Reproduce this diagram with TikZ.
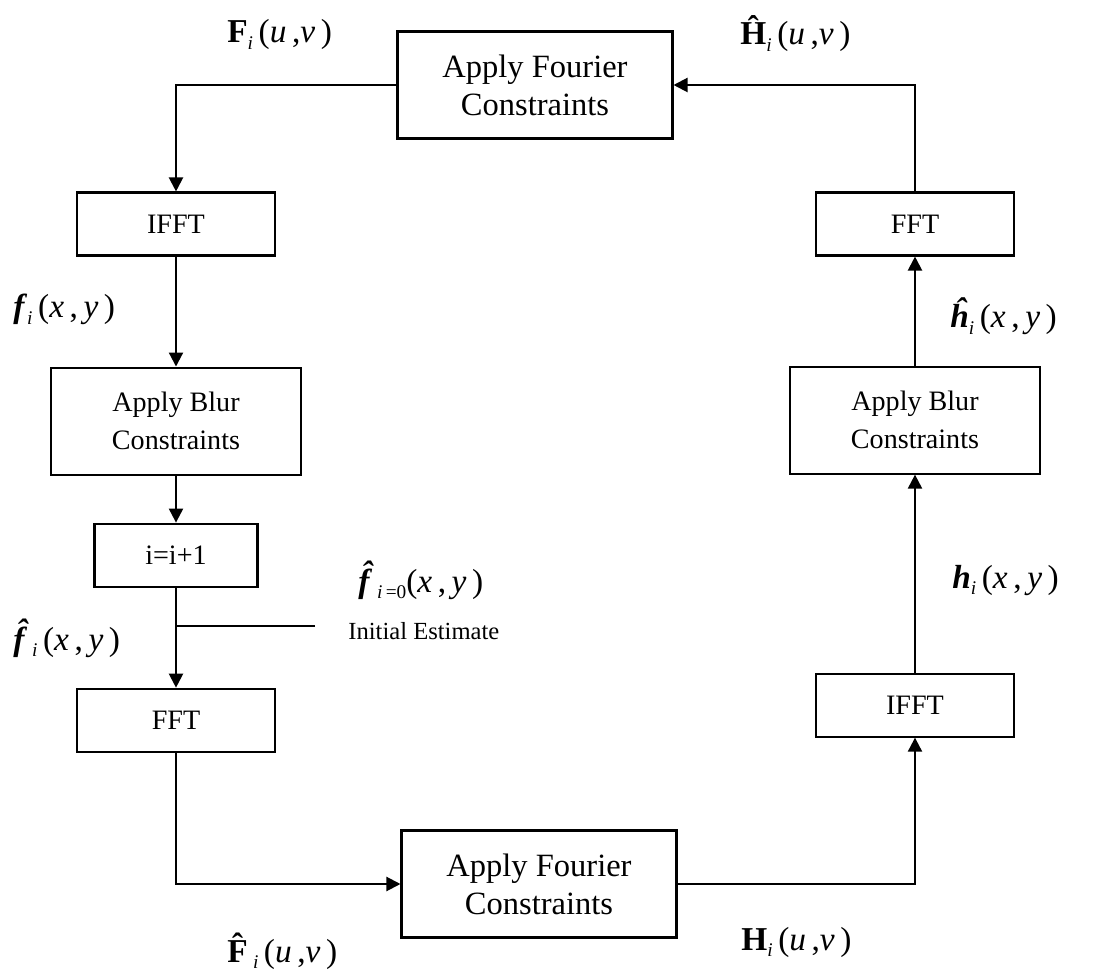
\documentclass[tikz,border=0pt]{standalone}
\usepackage{fontspec}
\setmainfont{Liberation Serif}
\usetikzlibrary{arrows.meta, positioning}

\newcommand{\sub}[1]{\raisebox{-0.45ex}{\fontsize{11}{11}\selectfont\itshape #1}}
\newcommand{\xy}{(\textit{x}\,,\,\textit{y}\,)}
\newcommand{\uv}{(\textit{u}\,,\textit{v}\,)}

\begin{document}
\begin{tikzpicture}[
  x=0.02cm, y=-0.02cm,
  proc/.style  = {draw, line width=1.2pt, align=center, inner sep=0pt,
                  font=\fontsize{16}{21.5}\selectfont},
  big/.style   = {proc, minimum width=5.5cm, minimum height=2.14cm,
                  font=\fontsize{18.5}{21.5}\selectfont},
  blur/.style  = {proc, minimum width=5cm, minimum height=2.14cm},
  small/.style = {proc, minimum width=3.96cm, minimum height=1.26cm},
  arr/.style   = {-{Triangle[length=0.28cm, width=0.28cm]}, line width=1.2pt},
  line/.style  = {line width=1.2pt},
  lbl/.style   = {font=\fontsize{19}{23}\selectfont, inner sep=0pt, anchor=base west}
]
\useasboundingbox (0,0) rectangle (1100,973);

% -- left column -------------------------------------------
\node[big] (four1) at (535,85) {Apply Fourier\\Constraints};
\node[small] (ifft1) at (176,224) {IFFT};
\node[blur, below=2.2cm of ifft1] (blur1) {Apply Blur\\Constraints};
\node[small, minimum width=3.26cm, below=0.94cm of blur1] (inc) {i=i+1};
\node[small, below=2cm of inc] (fft1) {FFT};

% -- right column ------------------------------------------
\node[big] (four2) at (539,884) {Apply Fourier\\Constraints};
\node[small] (fft2) at (915,224) {FFT};
\node[blur, below=2.18cm of fft2] (blur2) {Apply Blur\\Constraints};
\node[small, below=3.96cm of blur2] (ifft2) {IFFT};

% -- initial estimate --------------------------------------
\coordinate (init) at (315,626);
\node[lbl] (f0) at (358,592) {\textbf{\textit{\^{f}}}\sub{i\,{\upshape =0}}\xy};
\node[lbl, font=\fontsize{14}{17}\selectfont] (est) at (348,640) {Initial Estimate};

% -- labels ------------------------------------------------
\node[lbl] (lF)  at (227,43)  {\textbf{F}\sub{i}\,\uv};
\node[lbl] (lHh) at (740,45)  {\textbf{\^{H}}\sub{i}\,\uv};
\node[lbl] (lf)  at (13,318)  {\textbf{\textit{f}}\sub{i}\,\xy};
\node[lbl] (lhh) at (950,328) {\textbf{\textit{\^{h}}}\sub{i}\,\xy};
\node[lbl] (lfh) at (13,650)  {\textbf{\textit{\^{f}}}\sub{i}\,\xy};
\node[lbl] (lh)  at (952,588) {\textbf{\textit{h}}\sub{i}\,\xy};
\node[lbl] (lFh) at (227,962) {\textbf{\^{F}}\sub{i}\,\uv};
\node[lbl] (lH)  at (741,950) {\textbf{H}\sub{i}\,\uv};

% -- arrows ------------------------------------------------
\draw[arr] (four1.west) -| (ifft1.north);
\draw[arr] (ifft1) -- (blur1);
\draw[arr] (blur1) -- (inc);
\draw[arr] (inc) -- (fft1);
\draw[line] (init) -- (init -| inc.south);
\draw[arr] (fft1.south) |- (four2.west);
\draw[arr] (four2.east) -| (ifft2.south);
\draw[arr] (ifft2) -- (blur2);
\draw[arr] (blur2) -- (fft2);
\draw[arr] (fft2.north) |- (four1.east);

\end{tikzpicture}
\end{document}
